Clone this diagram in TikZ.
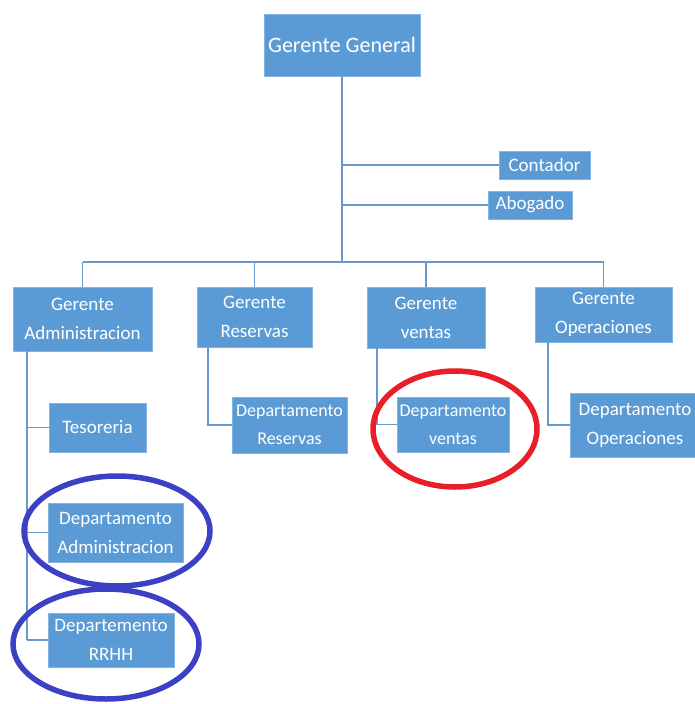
\documentclass[tikz,border=0pt]{standalone}
\usepackage{fontspec}
\setmainfont{Carlito}
\usepackage{tikz}
\usetikzlibrary{positioning, calc}

\definecolor{boxblue}{RGB}{91,155,213}
\definecolor{lineblue}{RGB}{104,152,204}
\definecolor{markred}{RGB}{232,30,40}
\definecolor{markblue}{RGB}{60,64,196}

\begin{document}
\begin{tikzpicture}[x=1pt, y=-1pt,
  unit/.style={rectangle, draw=boxblue!75!white, fill=boxblue, text=white,
               inner sep=0pt, align=center, font=\fontsize{19}{29}\selectfont},
  branch/.style={lineblue, line width=1.8pt},
  handmark/.style={line width=5.5pt}
]
  \useasboundingbox (0,0) rectangle (694,704);

  % Top of the chart
  \node[unit, minimum width=156pt, minimum height=62pt,
        font=\fontsize{22}{26}\selectfont] (gg) at (342,45) {Gerente General};
  \node[unit, minimum width=91pt, minimum height=28pt] (cont) at (544.5,165) {Contador};
  \node[unit, minimum width=84pt, minimum height=28pt] (abog) at (530,205) {Abogado};

  % Second level
  \node[unit, minimum width=139pt, minimum height=64pt] (ga) at (82.5,319)  {Gerente\\Administracion};
  \node[unit, minimum width=115pt, minimum height=60pt] (gr) at (254.5,317) {Gerente\\Reservas};
  \node[unit, minimum width=118pt, minimum height=61pt] (gv) at (426,317.5) {Gerente\\ventas};
  \node[unit, minimum width=137pt, minimum height=55pt] (go) at (603.5,314.5) {Gerente\\Operaciones};

  % Departments
  \node[unit, minimum width=97pt,  minimum height=49pt] (tes)  at (97.5,427.5) {Tesoreria};
  \node[unit, minimum width=135pt, minimum height=59pt] (dadm) at (115.5,532.5) {Departamento\\Administracion};
  \node[unit, minimum width=126pt, minimum height=54pt] (rrhh) at (111,640) {Departemento\\RRHH};
  \node[unit, minimum width=115pt, minimum height=56pt,
        font=\fontsize{18}{28}\selectfont] (dr) at (289.5,425) {Departamento\\Reservas};
  \node[unit, minimum width=112pt, minimum height=55pt,
        font=\fontsize{18}{28}\selectfont] (dv) at (453,424.5) {Departamento\\ventas};
  \node[unit, minimum width=130pt, minimum height=64pt] (do) at (635,425) {Departamento\\Operaciones};

  % Trunk and staff lines
  \coordinate (bar) at (342,262);
  \draw[branch] (gg.south) -- (bar);
  \draw[branch] (gg.south |- cont.west) -- (cont.west);
  \draw[branch] (gg.south |- abog.west) -- (abog.west);
  \draw[branch] (ga.north |- bar) -- (go.north |- bar);
  \foreach \g in {ga,gr,gv,go}
    \draw[branch] (\g.north |- bar) -- (\g.north);

  % Administracion branch
  \coordinate (ga-stem) at ($(ga.south west)+(14,0)$);
  \draw[branch] (ga-stem) -- (ga-stem |- rrhh.west);
  \foreach \d in {tes,dadm,rrhh}
    \draw[branch] (ga-stem |- \d.west) -- (\d.west);

  % Other branches
  \draw[branch] ($(gr.south west)+(11,0)$) |- (dr.west);
  \draw[branch] ($(gv.south west)+(10,0)$) |- (dv.west);
  \draw[branch] ($(go.south west)+(13,0)$) |- (do.west);

  % Hand-drawn marks
  \draw[handmark, markred]  (455,429) ellipse [x radius=82pt, y radius=58pt];
  \draw[handmark, markblue] (117,531) ellipse [x radius=93pt, y radius=55pt];
  \draw[handmark, markblue] (106,644) ellipse [x radius=93pt, y radius=55pt];
\end{tikzpicture}
\end{document}
